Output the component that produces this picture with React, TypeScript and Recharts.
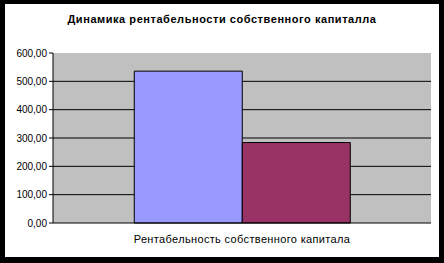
import { BarChart, Bar, XAxis, YAxis, CartesianGrid } from "recharts";

// one category, two periods compared side by side
const categories = ["Рентабельность собственного капитала"];
const firstPeriod = [536];
const secondPeriod = [284];
const yTicks = [0, 100, 200, 300, 400, 500, 600];

const data = categories.map((name, i) => ({
  name,
  first: firstPeriod[i],
  second: secondPeriod[i],
}));

const font = "'Liberation Sans', Arial, sans-serif";

export default function App() {
  return (
    <div
      style={{
        position: "absolute",
        left: 0,
        top: 0,
        width: 444,
        height: 263,
        background: "#000",
        fontFamily: font,
      }}
    >
      <div
        style={{
          position: "absolute",
          left: 5,
          top: 4,
          width: 434,
          height: 253,
          background: "#fff",
        }}
      />
      <div
        style={{
          position: "absolute",
          left: 0,
          top: 13,
          width: 444,
          textAlign: "center",
          fontSize: 11,
          fontWeight: "bold",
          letterSpacing: 0.55,
          color: "#000",
        }}
      >
        Динамика рентабельности собственного капиталла
      </div>
      <BarChart
        width={444}
        height={263}
        data={data}
        margin={{ top: 53, right: 13, left: 5, bottom: 10 }}
        barGap={0}
        barCategoryGap="21.5%"
        style={{ position: "absolute", left: 0, top: 0 }}
      >
        <CartesianGrid
          fill="#C0C0C0"
          fillOpacity={1}
          stroke="#000"
          vertical={false}
          horizontalValues={[100, 200, 300, 400, 500]}
        />
        <XAxis
          dataKey="name"
          height={30}
          axisLine={{ stroke: "#000" }}
          tickLine={false}
          tickSize={0}
          tickMargin={12}
          tick={{ fontSize: 11, fill: "#000", fontFamily: font, letterSpacing: 0.35 }}
        />
        <XAxis
          xAxisId="top"
          orientation="top"
          dataKey="name"
          height={0}
          tick={false}
          tickLine={false}
          axisLine={{ stroke: "#808080" }}
        />
        <YAxis
          width={48}
          domain={[0, 600]}
          ticks={yTicks}
          interval={0}
          tickSize={4}
          tickMargin={2}
          axisLine={{ stroke: "#000" }}
          tickLine={{ stroke: "#000" }}
          tick={{ fontSize: 10, fill: "#000", fontFamily: font }}
          tickFormatter={(v: number) => v.toFixed(2).replace(".", ",")}
        />
        <YAxis
          yAxisId="right"
          orientation="right"
          width={0}
          domain={[0, 600]}
          tick={false}
          tickLine={false}
          axisLine={{ stroke: "#808080" }}
        />
        <Bar
          dataKey="first"
          fill="#9999FF"
          stroke="#000"
          strokeWidth={1}
          isAnimationActive={false}
        />
        <Bar
          dataKey="second"
          fill="#993366"
          stroke="#000"
          strokeWidth={1}
          isAnimationActive={false}
        />
      </BarChart>
    </div>
  );
}
